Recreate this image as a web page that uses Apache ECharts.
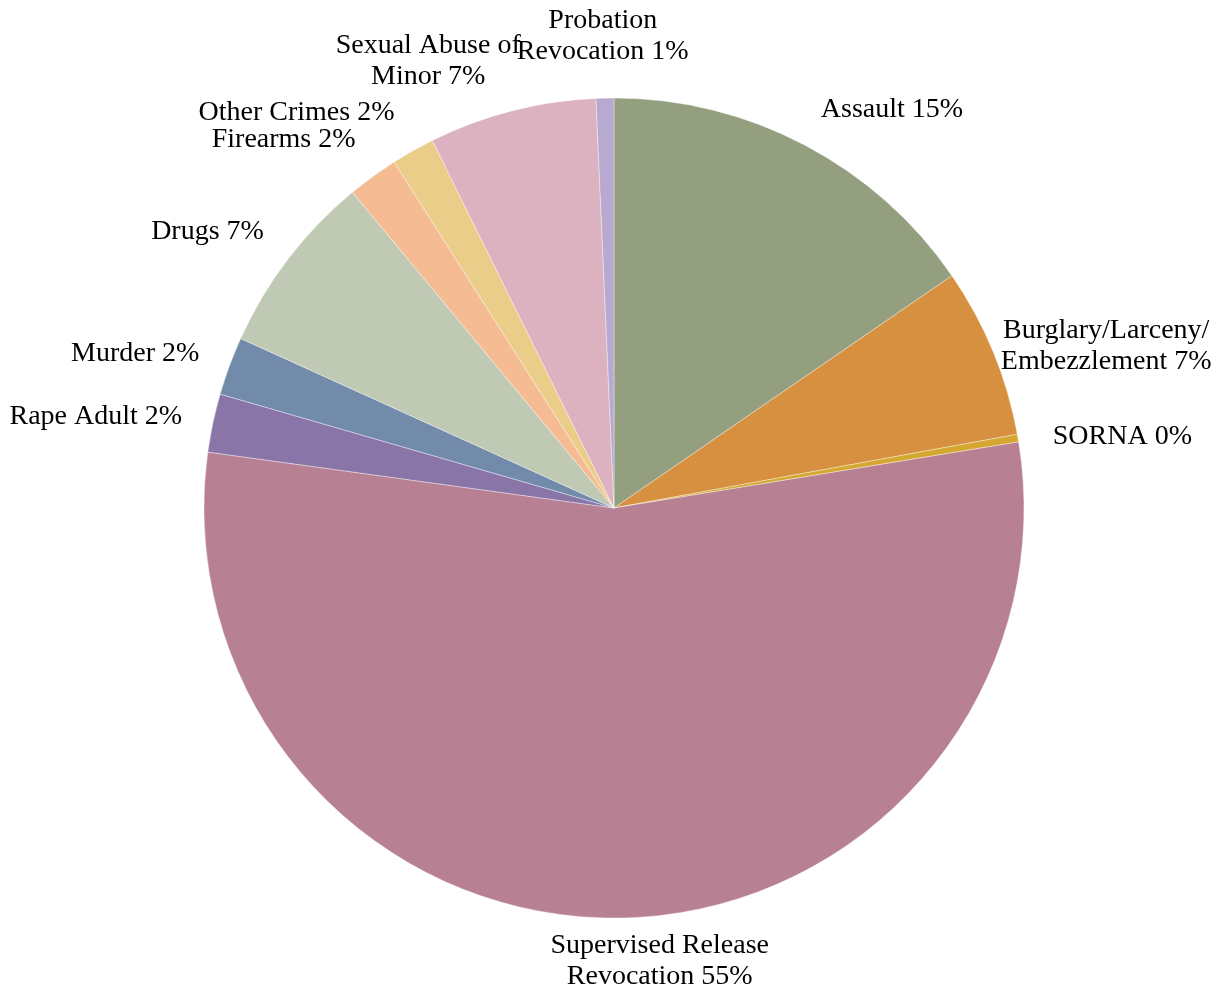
<!DOCTYPE html>
<html>
<head>
<meta charset="utf-8">
<script src="https://cdn.jsdelivr.net/npm/echarts@6/dist/echarts.min.js"></script>
<style>
  html, body { margin: 0; padding: 0; background: #ffffff; }
  #chart { width: 1231px; height: 996px; }
</style>
</head>
<body>
<div id="chart"></div>
<script>
// Offense categories, clockwise from 12 o'clock
const categories = [
  'Assault',
  'Burglary/Larceny/\nEmbezzlement',
  'SORNA',
  'Supervised Release\nRevocation',
  'Rape Adult',
  'Murder',
  'Drugs',
  'Firearms',
  'Other Crimes',
  'Sexual Abuse of\nMinor',
  'Probation\nRevocation'
];

// Share of cases (percent)
const shares = [15.4, 6.7, 0.3, 54.7, 2.3, 2.3, 7.2, 2.0, 1.7, 6.6, 0.7];

const sliceColors = [
  '#939f7f', '#d6903f', '#d4a830', '#b88093', '#8a75a9', '#728bab',
  '#c0c9b3', '#f5bc94', '#ebcd8a', '#dcb2c0', '#b8a9d0'
];

// Pie geometry
const CX = 614, CY = 508, R = 410, GAP = 15;

// Extra label offsets to spread the outside labels
const labelNudge = [
  [47, -9], [2, 12], [21, 4], [39, -3], [-18, 0], [-20, -2],
  [-24, -9], [-38, -12], [-61, -11], [-57, -5], [0, -16]
];

// Mid-angle of each slice (radians, clockwise from north)
const total = shares.reduce((a, b) => a + b, 0);
const midAngles = [];
let acc = 0;
shares.forEach(v => { midAngles.push((acc + v / 2) / total * Math.PI * 2); acc += v; });

const chart = echarts.init(document.getElementById('chart'), null, { renderer: 'canvas' });

chart.setOption({
  animation: false,
  backgroundColor: '#ffffff',
  series: [{
    type: 'pie',
    center: [CX, CY],
    radius: R,
    startAngle: 90,
    clockwise: true,
    percentPrecision: 0,
    avoidLabelOverlap: false,
    data: categories.map((name, i) => ({
      name: name,
      value: shares[i],
      itemStyle: { color: sliceColors[i] }
    })),
    itemStyle: { borderColor: 'rgba(255,255,255,0.6)', borderWidth: 0.6 },
    label: {
      show: true,
      position: 'outside',
      formatter: '{b} {d}%',
      fontFamily: '"Liberation Serif", serif',
      fontSize: 28,
      lineHeight: 31,
      color: '#000000'
    },
    labelLine: { show: false },
    emphasis: { disabled: true },
    labelLayout: function (p) {
      const th = midAngles[p.dataIndex];
      const s = Math.sin(th), c = Math.cos(th);
      const w = p.labelRect.width, h = p.labelRect.height;
      const r = R + GAP;
      const n = labelNudge[p.dataIndex];
      return {
        x: CX + r * s + (w / 2) * s + n[0],
        y: CY - r * c - (h / 2) * c + n[1],
        align: 'center',
        verticalAlign: 'middle'
      };
    }
  }]
});
</script>
</body>
</html>
